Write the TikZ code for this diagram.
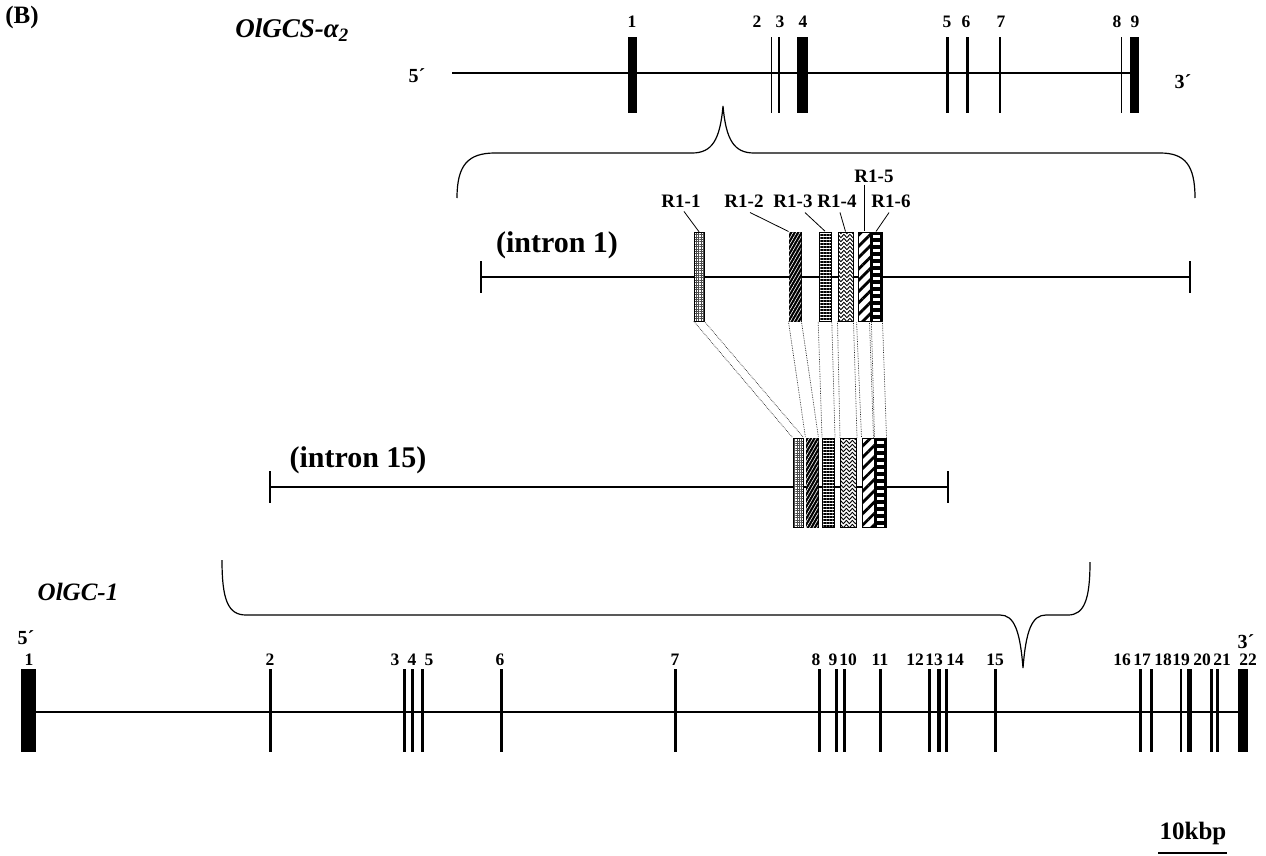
\documentclass[tikz,border=0pt]{standalone}
\usepackage{fontspec}
\setmainfont{Liberation Serif}
\usetikzlibrary{patterns, patterns.meta, decorations.pathmorphing}

\begin{document}
\begin{tikzpicture}[
    x=1pt, y=-1pt,
    gene/.style={line width=1.1pt},
    intron/.style={line width=2.6pt},
    brace/.style={line width=1.2pt},
    exlab/.style={font=\bfseries\fontsize{17.5}{17.5}\selectfont, inner sep=0pt},
    endlab/.style={font=\bfseries\fontsize{20}{20}\selectfont, inner sep=0pt},
    rlab/.style={font=\bfseries\fontsize{19}{19}\selectfont, inner sep=0pt},
    title/.style={font=\bfseries\itshape\fontsize{27}{27}\selectfont, inner sep=0pt},
    tag/.style={font=\bfseries\fontsize{30}{30}\selectfont, inner sep=0pt},
    rbox/.style={draw, line width=1pt, minimum height=89, inner sep=0pt, preaction={fill=white}},
    lead/.style={line width=0.8pt},
    dotline/.style={densely dotted, line width=0.7pt, black!85},
    patA/.style={pattern={Hatch[distance=2.4pt, line width=0.5pt]}, pattern color=black!70},
    patB/.style={fill=black, postaction={pattern={Lines[angle=60, distance=3pt, line width=0.6pt]}, pattern color=white}},
    patC/.style={pattern={Lines[angle=0, distance=3pt, line width=1.6pt]}},
    patD/.style={path picture={
        \foreach \k in {0,...,23}
            \draw[line width=0.9pt, decorate, decoration={snake, amplitude=1.6pt, segment length=6pt}]
                ([xshift=-2pt, yshift={-4pt*\k}]path picture bounding box.north west) -- ++(22,0);
    }},
    patE/.style={pattern={Lines[angle=45, distance=8pt, line width=2.8pt]}},
    patF/.style={fill=black, path picture={
        \foreach \k in {0,...,12}
            \fill[white] ([xshift=3pt, yshift={-3pt-7pt*\k}]path picture bounding box.north west) rectangle ++(7,3);
    }}
]
\useasboundingbox (0,0) rectangle (1266,856);

% Panel tag
\node[font=\bfseries\fontsize{25}{25}\selectfont, inner sep=0pt] (tagB) at (22,17) {(B)};

% Top gene: OlGCS-alpha2
\node[title] (alpha) at (292,30) {OlGCS-α\textsubscript{2}};
\coordinate (topL) at (452,73);
\coordinate (topR) at (1139,73);
\draw[gene] (topL) -- (topR);
\node[endlab] (top5) at (417,76) {5´};
\node[endlab] (top3) at (1183,82) {3´};
\foreach \x/\w in {632.5/9, 771.5/1.8, 779/1.8, 802.5/11, 947.5/3, 967.5/3, 1000/2, 1121.5/1.8, 1134.5/9}
    \fill ({\x-\w/2},37) rectangle ({\x+\w/2},113);
\foreach \n/\x in {1/632, 2/757, 3/780, 4/803, 5/947, 6/966, 7/1001, 8/1117, 9/1135}
    \node[exlab] (t\n) at (\x,22) {\n};

% Brace over intron 1
\draw[brace] (457,198) .. controls (457,165) and (468,153) .. (495,153) -- (692,153)
    .. controls (712,153) and (720,140) .. (723,106)
    .. controls (726,140) and (734,153) .. (754,153) -- (1160,153)
    .. controls (1185,153) and (1195,165) .. (1195,198);

% Intron 1
\node[tag] (int1) at (557,245) {(intron 1)};
\coordinate (i1L) at (481,277);
\coordinate (i1R) at (1190,277);
\draw[intron] (i1L) -- (i1R);
\draw[intron] ([yshift=16pt]i1L) -- ([yshift=-16pt]i1L);
\draw[intron] ([yshift=16pt]i1R) -- ([yshift=-16pt]i1R);
\node[rbox, patA, minimum width=10] (a1) at (699,276.5) {};
\node[rbox, patB, minimum width=12] (a2) at (795,276.5) {};
\node[rbox, patC, minimum width=12] (a3) at (825,276.5) {};
\node[rbox, patD, minimum width=15] (a4) at (845.5,276.5) {};
\node[rbox, patE, minimum width=12] (a5) at (864,276.5) {};
\node[rbox, patF, minimum width=12] (a6) at (876,276.5) {};

% Repeat labels
\node[rlab] (l1) at (681,201) {R1-1};
\node[rlab] (l2) at (744,201) {R1-2};
\node[rlab] (l3) at (793,201) {R1-3};
\node[rlab] (l4) at (837,201) {R1-4};
\node[rlab] (l5) at (874,176) {R1-5};
\node[rlab] (l6) at (891,201) {R1-6};
\draw[lead] ([xshift=3pt, yshift=-4pt]l1.south) -- (a1.north);
\draw[lead] ([xshift=6pt, yshift=-5pt]l2.south) -- (a2.north west);
\draw[lead] ([xshift=12pt, yshift=-5pt]l3.south) -- (a3.north);
\draw[lead] ([xshift=3pt, yshift=-5pt]l4.south) -- (a4.north);
\draw[lead] ([yshift=-2pt]l5.south -| a5.north) -- (a5.north);
\draw[lead] ([xshift=-2pt, yshift=-5pt]l6.south) -- (a6.north);

% Intron 15
\node[tag] (int15) at (358,460) {(intron 15)};
\coordinate (i15L) at (270,487);
\coordinate (i15R) at (948,487);
\draw[intron] (i15L) -- (i15R);
\draw[intron] ([yshift=16pt]i15L) -- ([yshift=-16pt]i15L);
\draw[intron] ([yshift=16pt]i15R) -- ([yshift=-16pt]i15R);
\node[rbox, patA, minimum width=10] (b1) at (798,482.5) {};
\node[rbox, patB, minimum width=12] (b2) at (812,482.5) {};
\node[rbox, patC, minimum width=12] (b3) at (828.5,482.5) {};
\node[rbox, patD, minimum width=16] (b4) at (848.5,482.5) {};
\node[rbox, patE, minimum width=12] (b5) at (868,482.5) {};
\node[rbox, patF, minimum width=12] (b6) at (880,482.5) {};

% Matching repeats
\foreach \k in {1,...,6} {
    \draw[dotline] (a\k.south west) -- (b\k.north west);
    \draw[dotline] (a\k.south east) -- (b\k.north east);
}

% Brace under intron 15
\draw[brace] (222,560) .. controls (222,600) and (228,615) .. (246,615) -- (1000,615)
    .. controls (1014,615) and (1020,630) .. (1023,668)
    .. controls (1026,630) and (1032,615) .. (1046,615) -- (1068,615)
    .. controls (1084,615) and (1090,600) .. (1090,562);

% Bottom gene: OlGC-1
\node[font=\bfseries\itshape\fontsize{25}{25}\selectfont, inner sep=0pt] (olgc) at (78,592) {OlGC-1};
\coordinate (botL) at (28,712);
\coordinate (botR) at (1243,712);
\draw[gene] (botL) -- (botR);
\node[endlab] (bot5) at (26,638) {5´};
\node[endlab] (bot3) at (1246,642) {3´};
\foreach \x/\w in {28.5/15, 270/3, 404/3, 412/3, 422/3, 501/3, 675/3, 819/3, 836/3, 844/3, 880/3,
                   929/3, 938.5/4, 946/3, 995/3, 1140/3, 1151/3, 1181/2, 1189/5, 1211.5/3, 1217.5/3, 1243/10}
    \fill ({\x-\w/2},669) rectangle ({\x+\w/2},752);
\foreach \n/\x in {1/29, 2/270, 3/395, 4/412, 5/429, 6/500, 7/675, 8/816, 9/833, 10/848, 11/880,
                   12/915, 13/934, 14/955, 15/995, 16/1122, 17/1142, 18/1163, 19/1181, 20/1202, 21/1222, 22/1248}
    \node[exlab] (e\n) at (\x,660) {\n};

% Scale bar
\node[font=\bfseries\fontsize{25}{25}\selectfont, inner sep=0pt] (kbp) at (1193,833) {10kbp};
\draw[line width=1.4pt] (1158,853) -- (1227,853);

\end{tikzpicture}
\end{document}
